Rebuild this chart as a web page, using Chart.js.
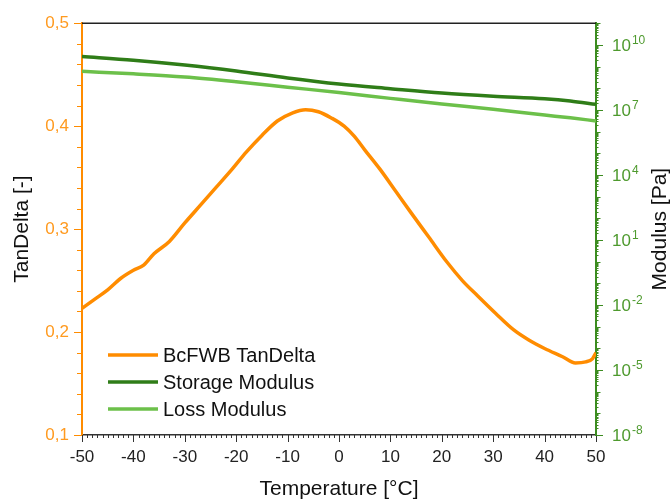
<!DOCTYPE html>
<html>
<head>
<meta charset="utf-8">
<script src="https://cdn.jsdelivr.net/npm/chart.js@4.4.0/dist/chart.umd.min.js"></script>
<style>
  body { margin: 0; background: #fff; }
  canvas { display: block; }
</style>
</head>
<body>
<canvas id="chart" width="670" height="500"></canvas>
<script>
// tan delta curve
const tanTemps = [-50, -47.5, -45, -42.5, -40, -38, -36, -33, -30, -27, -24, -21, -18, -15, -12, -9, -6.5, -4, -1.5,
  1, 3, 5, 8, 11, 14, 17.5, 21, 24, 27, 30.5, 34, 37, 40, 43.5, 46, 48, 49.3, 50];
const tanDelta = [0.223, 0.232, 0.241, 0.252, 0.260, 0.265, 0.276, 0.288, 0.306, 0.323, 0.340, 0.357, 0.375, 0.391,
  0.405, 0.413, 0.416, 0.414, 0.408, 0.400, 0.390, 0.377, 0.358, 0.337, 0.316, 0.292, 0.268, 0.250, 0.235, 0.218,
  0.202, 0.192, 0.184, 0.176, 0.170, 0.171, 0.174, 0.180];

// moduli (Pa)
const modTemps = [-50, -40, -30, -20, -10, 0, 10, 20, 30, 40, 45, 50];
const storageModulus = [2.9e9, 1.95e9, 1.17e9, 6.2e8, 2.95e8, 1.55e8, 9.5e7, 6.0e7, 4.3e7, 3.3e7, 2.6e7, 1.8e7];
const lossModulus = [6.0e8, 4.6e8, 3.3e8, 2.0e8, 1.12e8, 6.3e7, 3.4e7, 1.86e7, 1.07e7, 5.8e6, 4.3e6, 3.1e6];

const seriesNames = ["BcFWB TanDelta", "Storage Modulus", "Loss Modulus"];
const rightTickExps = [-8, -5, -2, 1, 4, 7, 10];

const ORANGE = "#ff8c00";
const DARK_GREEN = "#2f7d18";
const LIGHT_GREEN = "#6cc04a";
const AXIS_GREEN = "#3c8c20";
const FONT = "'Liberation Sans', Arial, sans-serif";

const toPoints = (xs, ys) => xs.map((x, i) => ({ x: x, y: ys[i] }));

const axisDecor = {
  id: "axisDecor",
  afterDraw(chart) {
    const { ctx, chartArea: a, scales } = chart;
    const x = scales.x, yl = scales.y, yr = scales.y2;
    const seg = (x1, y1, x2, y2) => {
      ctx.beginPath(); ctx.moveTo(x1, y1); ctx.lineTo(x2, y2); ctx.stroke();
    };
    ctx.save();
    // top frame line
    ctx.strokeStyle = "#222";
    ctx.lineWidth = 1.5;
    seg(a.left, a.top, a.right, a.top);

    // x ticks, one per degree
    ctx.strokeStyle = "#333";
    ctx.lineWidth = 1;
    for (let t = x.min; t <= x.max; t++) {
      const px = Math.round(x.getPixelForValue(t)) + 0.5;
      seg(px, a.bottom, px, a.bottom + (t % 10 === 0 ? 7 : 3));
    }

    // left ticks
    ctx.strokeStyle = ORANGE;
    for (let i = 0; i <= 20; i++) {
      const v = yl.min + i * 0.02;
      const py = Math.round(yl.getPixelForValue(v)) + 0.5;
      seg(a.left, py, a.left - (i % 5 === 0 ? 8 : 5), py);
    }

    // right ticks (log)
    ctx.strokeStyle = AXIS_GREEN;
    for (let e = -8; e <= 10; e++) {
      for (let m = 1; m <= 9; m++) {
        const v = m * Math.pow(10, e);
        const py = Math.round(yr.getPixelForValue(v)) + 0.5;
        let len = 2.5;
        if (m === 1) len = rightTickExps.includes(e) ? 7 : 4.5;
        seg(a.right, py, a.right + len, py);
      }
    }
    let py = Math.round(yr.getPixelForValue(1e11)) + 0.5;
    seg(a.right, py, a.right + 4.5, py);

    // right labels 10^n
    ctx.fillStyle = "#4e9a2e";
    ctx.textAlign = "left";
    ctx.textBaseline = "alphabetic";
    rightTickExps.forEach((e) => {
      const yy = yr.getPixelForValue(Math.pow(10, e));
      ctx.font = "17px " + FONT;
      ctx.fillText("10", a.right + 16, yy + 6);
      const w = ctx.measureText("10").width;
      ctx.font = "12px " + FONT;
      ctx.fillText(String(e), a.right + 17 + w, yy - 1);
    });

    // axis titles
    ctx.fillStyle = "#111";
    ctx.font = "21px " + FONT;
    ctx.textAlign = "center";
    ctx.textBaseline = "middle";
    ctx.fillText("Temperature [°C]", (a.left + a.right) / 2, 489);
    const midY = (a.top + a.bottom) / 2;
    [["TanDelta [-]", 22], ["Modulus [Pa]", 660]].forEach(([t, cx]) => {
      ctx.save();
      ctx.translate(cx, midY);
      ctx.rotate(-Math.PI / 2);
      ctx.fillText(t, 0, 0);
      ctx.restore();
    });

    // legend in the plot
    ctx.font = "20px " + FONT;
    ctx.textAlign = "left";
    chart.data.datasets.forEach((ds, i) => {
      const ly = 355 + i * 27;
      ctx.strokeStyle = ds.borderColor;
      ctx.lineWidth = 3.5;
      seg(108, ly, 158, ly);
      ctx.fillStyle = "#111";
      ctx.fillText(ds.label, 163, ly + 1);
    });
    ctx.restore();
  },
};

new Chart(document.getElementById("chart"), {
  type: "line",
  data: {
    datasets: [
      {
        label: seriesNames[0],
        data: toPoints(tanTemps, tanDelta),
        yAxisID: "y",
        borderColor: ORANGE,
        borderWidth: 3.5,
        pointRadius: 0,
        cubicInterpolationMode: "monotone",
      },
      {
        label: seriesNames[1],
        data: toPoints(modTemps, storageModulus),
        yAxisID: "y2",
        borderColor: DARK_GREEN,
        borderWidth: 3.5,
        pointRadius: 0,
        cubicInterpolationMode: "monotone",
      },
      {
        label: seriesNames[2],
        data: toPoints(modTemps, lossModulus),
        yAxisID: "y2",
        borderColor: LIGHT_GREEN,
        borderWidth: 3.5,
        pointRadius: 0,
        cubicInterpolationMode: "monotone",
      },
    ],
  },
  options: {
    responsive: false,
    animation: false,
    layout: { padding: { top: 21, left: 0, right: 0, bottom: 0 } },
    plugins: { legend: { display: false }, tooltip: { enabled: false } },
    scales: {
      x: {
        type: "linear",
        min: -50,
        max: 50,
        afterFit: (s) => { s.height = 65; },
        grid: { display: false, drawTicks: false },
        border: { display: true, color: "#333", width: 1.5 },
        ticks: {
          stepSize: 10,
          padding: 12,
          color: "#222",
          font: { family: FONT, size: 17 },
        },
      },
      y: {
        position: "left",
        min: 0.1,
        max: 0.5,
        afterFit: (s) => { s.width = 82; },
        grid: { display: false, drawTicks: false },
        border: { display: true, color: ORANGE, width: 2 },
        ticks: {
          stepSize: 0.1,
          padding: 13,
          color: "#ff9a1f",
          font: { family: FONT, size: 17 },
          callback: (v) => v.toFixed(1).replace(".", ","),
        },
      },
      y2: {
        type: "logarithmic",
        position: "right",
        min: 1e-8,
        max: 1e11,
        afterFit: (s) => { s.width = 74; },
        grid: { display: false, drawTicks: false },
        border: { display: true, color: AXIS_GREEN, width: 2 },
        ticks: { display: false },
      },
    },
  },
  plugins: [axisDecor],
});
</script>
</body>
</html>
